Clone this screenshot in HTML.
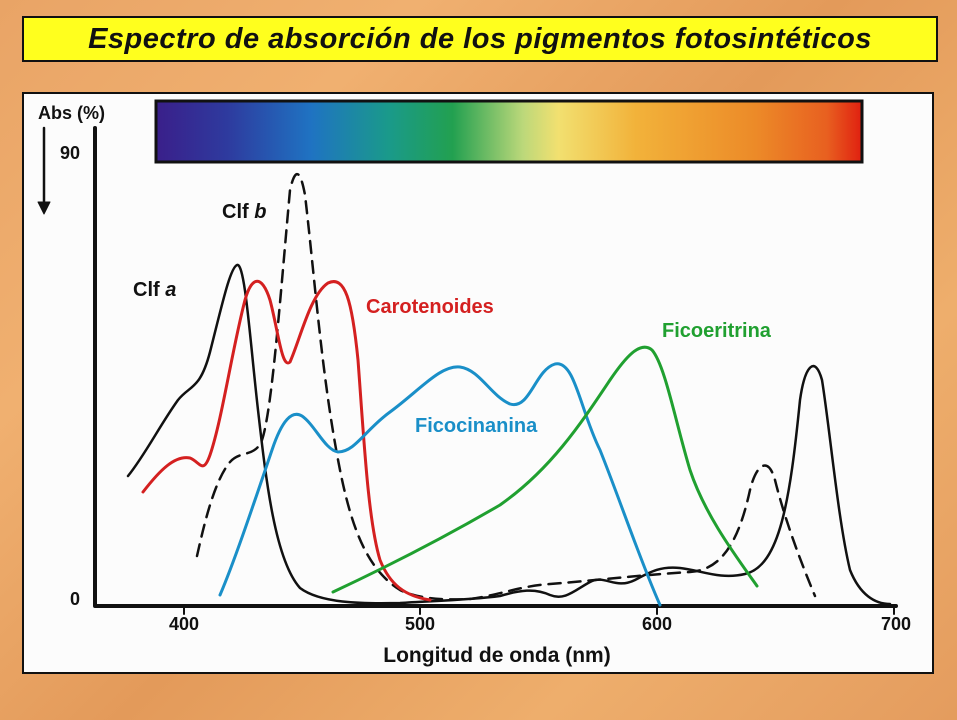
<!DOCTYPE html>
<html><head><meta charset="utf-8"><style>
body{margin:0;width:957px;height:720px;overflow:hidden;background:linear-gradient(135deg,#e9a466 0%,#f0b070 25%,#e39a5a 50%,#eeae6c 75%,#e49c5e 100%);font-family:"Liberation Sans",sans-serif;}
.t{position:absolute;left:22px;top:16px;width:912px;height:42px;background:#ffff1e;border:2px solid #111;font:italic bold 29px "Liberation Sans",sans-serif;text-align:center;line-height:42px;color:#111;letter-spacing:0.5px}
.c{position:absolute;left:22px;top:92px;width:908px;height:578px;background:#fcfcfc;border:2px solid #111}
</style></head><body>
<div class="t">Espectro de absorción de los pigmentos fotosintéticos</div>
<div class="c"></div>
<svg width="957" height="720" style="position:absolute;left:0;top:0">
<defs><linearGradient id="sp" x1="0" x2="1">
<stop offset="0" stop-color="#3a1f8a"/><stop offset="0.1" stop-color="#2e3a9e"/><stop offset="0.22" stop-color="#1f73c2"/><stop offset="0.33" stop-color="#1a9a8a"/><stop offset="0.42" stop-color="#22a050"/><stop offset="0.52" stop-color="#bcd87a"/><stop offset="0.57" stop-color="#f2e070"/><stop offset="0.68" stop-color="#f2b23a"/><stop offset="0.85" stop-color="#ec8a28"/><stop offset="0.95" stop-color="#e86020"/><stop offset="1" stop-color="#e02010"/></linearGradient></defs>
<rect x="156" y="101" width="706" height="61" fill="url(#sp)" stroke="#111" stroke-width="3"/>
<g fill="none" stroke-linecap="round" stroke-linejoin="round">
<path d="M95,128 V606 H896" stroke="#111" stroke-width="4"/>
<path d="M44,128 V205" stroke="#111" stroke-width="2.5"/>
<path d="M38,202 L44,214 L50,202 Z" fill="#111" stroke="#111"/>
<path d="M184,606v8M420,606v8M657,606v8M894,606v8" stroke="#111" stroke-width="2"/>
<path d="M128,476 C145,455 160,425 178,400 C190,385 200,390 210,352 C222,305 230,268 237,265 C245,262 250,340 258,410 C266,480 275,560 300,588 C320,603 360,604 400,603 C430,601 470,600 500,596 C520,590 535,588 550,595 C565,601 575,590 590,582 C605,574 615,590 635,580 C650,572 660,566 680,568 C700,570 720,580 745,574 C780,566 790,500 800,400 C805,365 815,355 822,380 C830,430 838,520 850,570 C860,595 875,604 890,604" stroke="#111" stroke-width="2.5"/>
<path d="M197,556 C205,520 215,480 230,462 C240,450 255,458 262,440 C272,410 280,300 290,190 C295,168 300,168 305,195 C315,280 322,380 340,470 C352,530 368,570 400,590 C420,600 450,600 470,599 C500,595 520,586 550,584 C600,580 640,575 690,572 C720,570 738,545 750,490 C756,465 768,455 775,480 C785,520 800,560 815,596" stroke="#111" stroke-width="2.5" stroke-dasharray="12,8"/>
<path d="M143,492 C160,470 175,455 190,458 C200,462 203,475 210,455 C222,420 232,350 245,300 C252,275 262,275 270,300 C278,330 282,370 290,362 C300,340 310,295 328,283 C345,275 352,300 358,360 C364,440 368,520 380,560 C390,585 405,596 430,600" stroke="#d42020" stroke-width="3"/>
<path d="M220,595 C235,560 255,500 272,450 C282,420 292,410 302,416 C315,425 325,450 338,452 C355,452 365,430 390,412 C420,390 440,365 460,367 C480,370 490,395 510,404 C530,410 535,370 555,364 C575,360 580,410 600,450 C620,500 640,560 660,605" stroke="#1a8fc8" stroke-width="3"/>
<path d="M333,592 C380,570 440,540 500,505 C550,470 580,425 610,380 C625,358 640,340 652,350 C665,365 675,420 690,470 C705,515 735,555 757,586" stroke="#20a030" stroke-width="3"/>
</g>
<g font-family="Liberation Sans,sans-serif" font-weight="bold" fill="#111">
<text x="38" y="119" font-size="18">Abs (%)</text>
<text x="60" y="159" font-size="18">90</text>
<text x="70" y="605" font-size="18">0</text>
<text x="184" y="630" font-size="18" text-anchor="middle">400</text>
<text x="420" y="630" font-size="18" text-anchor="middle">500</text>
<text x="657" y="630" font-size="18" text-anchor="middle">600</text>
<text x="896" y="630" font-size="18" text-anchor="middle">700</text>
<text x="497" y="662" font-size="21" text-anchor="middle">Longitud de onda (nm)</text>
<text x="133" y="296" font-size="20">Clf <tspan font-style="italic">a</tspan></text>
<text x="222" y="218" font-size="20">Clf <tspan font-style="italic">b</tspan></text>
<text x="366" y="313" font-size="20" fill="#d42020">Carotenoides</text>
<text x="662" y="337" font-size="20" fill="#20a030">Ficoeritrina</text>
<text x="415" y="432" font-size="20" fill="#1a8fc8">Ficocinanina</text>
</g>
</svg>
</body></html>
